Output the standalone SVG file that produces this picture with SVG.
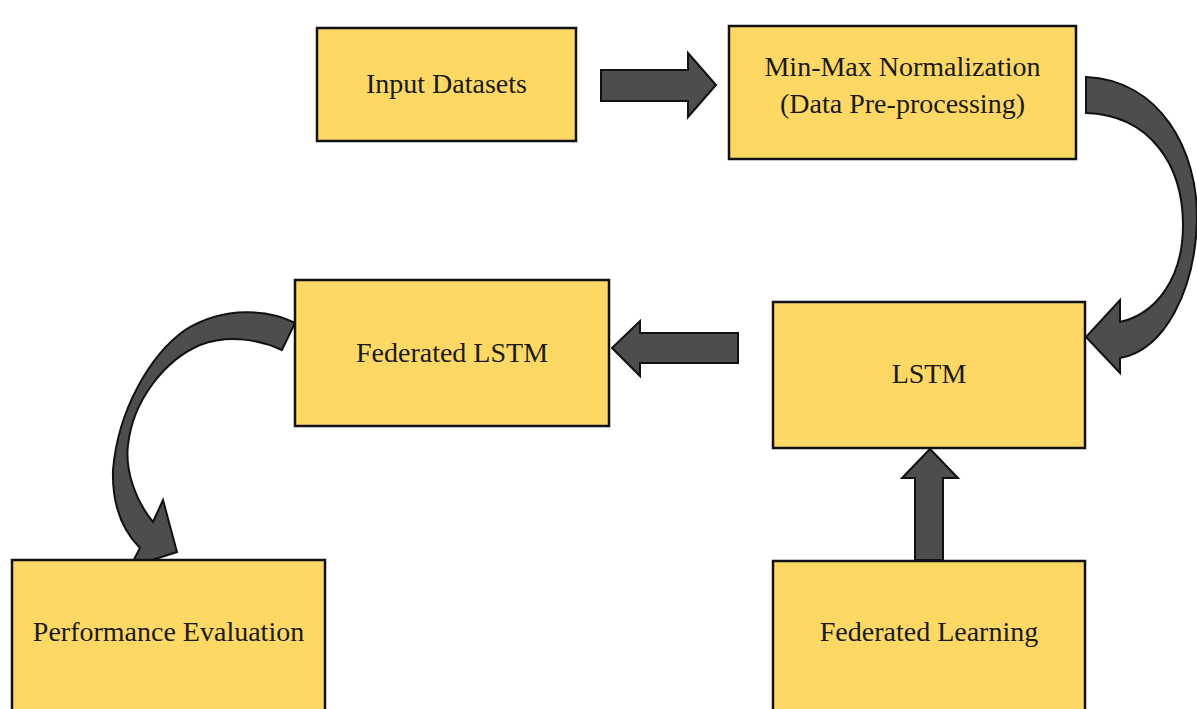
<svg xmlns="http://www.w3.org/2000/svg" width="1197" height="709" viewBox="0 0 1197 709">
  <style>
    .box { fill: #FDD865; stroke: #111; stroke-width: 2.5; }
    .lbl { font-family: "Liberation Serif", "Times New Roman", serif; font-size: 28px; fill: #1a1a1a; text-anchor: middle; }
    .arr { fill: #4D4D4D; stroke: #111; stroke-width: 2; stroke-linejoin: miter; }
  </style>
  <rect width="1197" height="709" fill="#ffffff"/>

  <!-- flow connectors -->
  <g id="connectors">
    <!-- Input Datasets -> Min-Max Normalization -->
    <path class="arr" d="M601,70 L688,70 L688,53 L716,85 L688,117 L688,101 L601,101 Z"/>
    <!-- Min-Max Normalization -> LSTM (curved) -->
    <path class="arr" d="M1086,77 C1160,80 1198,150 1197,220 C1195,290 1165,350 1120,358 L1120,373 L1086,337 L1120,300 L1120,322 C1155,314 1183,280 1183,225 C1183,165 1150,115 1086,113 Z"/>
    <!-- LSTM -> Federated LSTM -->
    <path class="arr" d="M738,333 L640,333 L640,321 L612,348 L640,376 L640,363 L738,363 Z"/>
    <!-- Federated Learning -> LSTM -->
    <path class="arr" d="M915,560 L915,478 L902,478 L930,449 L958,478 L943,478 L943,560 Z"/>
    <!-- Federated LSTM -> Performance Evaluation (curved) -->
    <path class="arr" d="M295,323 C270,310 225,305 185,330 C150,355 118,410 113,470 C112,505 122,530 140,548 L130,567 L177,552 L163,500 L153,522 C135,500 125,470 128,445 C133,400 165,360 200,345 C230,334 260,340 282,350 Z"/>
  </g>

  <g id="input-datasets">
    <rect class="box" x="317" y="28" width="259" height="113"/>
    <text class="lbl" x="446.5" y="93">Input Datasets</text>
  </g>

  <g id="min-max-normalization">
    <rect class="box" x="729" y="26" width="347" height="133"/>
    <text class="lbl" x="902.5" y="76">Min-Max Normalization</text>
    <text class="lbl" x="902.5" y="113">(Data Pre-processing)</text>
  </g>

  <g id="federated-lstm">
    <rect class="box" x="295" y="280" width="314" height="146"/>
    <text class="lbl" x="452" y="362">Federated LSTM</text>
  </g>

  <g id="lstm">
    <rect class="box" x="773" y="302" width="312" height="146"/>
    <text class="lbl" x="929" y="383">LSTM</text>
  </g>

  <g id="performance-evaluation">
    <rect class="box" x="12" y="560" width="313" height="160"/>
    <text class="lbl" x="168.5" y="641">Performance Evaluation</text>
  </g>

  <g id="federated-learning">
    <rect class="box" x="773" y="561" width="312" height="160"/>
    <text class="lbl" x="929" y="641">Federated Learning</text>
  </g>
</svg>
